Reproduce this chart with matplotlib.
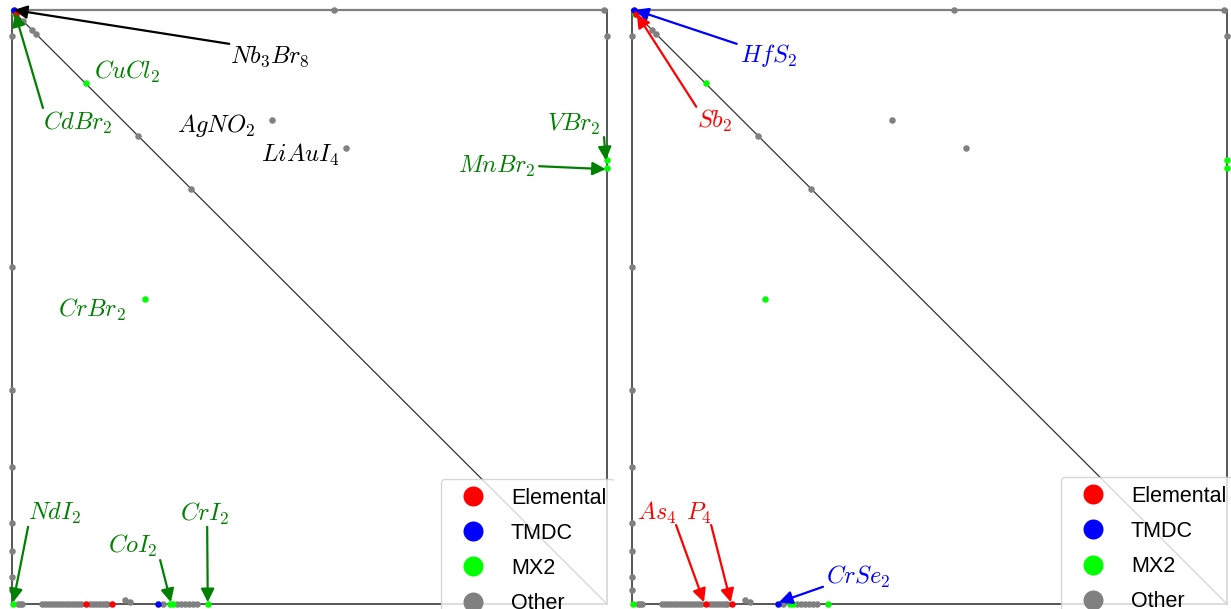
import numpy as np
import matplotlib
matplotlib.use('Agg')
import matplotlib.pyplot as plt
from matplotlib.lines import Line2D

plt.rcParams['mathtext.fontset'] = 'cm'
plt.rcParams['font.family'] = ['Liberation Sans', 'DejaVu Sans']

# point positions (normalised, both panels share them)
elemental_x = [0.007, 0.124, 0.168]
elemental_y = [0.993, 0.0, 0.0]
tmdc_x = [0.003, 0.245]
tmdc_y = [1.0, 0.0]
mx2_x = [0.005, 0.124, 0.224, 1.0, 1.0, 0.002, 0.266, 0.271, 0.329]
mx2_y = [0.994, 0.877, 0.513, 0.747, 0.734, 0.0, 0.0, 0.0, 0.0]
other_x = [0.541, 0.995, 1.0,
           0.0, 0.0, 0.0, 0.0, 0.0, 0.0, 0.0, 0.0,
           0.018, 0.034, 0.040, 0.212, 0.301,
           0.437, 0.561,
           0.010, 0.013, 0.017,
           0.050, 0.055, 0.061, 0.066, 0.071, 0.076, 0.081, 0.086,
           0.091, 0.096, 0.101, 0.106, 0.111, 0.116,
           0.131, 0.136, 0.141, 0.146, 0.151, 0.156, 0.160,
           0.190, 0.198, 0.254,
           0.277, 0.284, 0.291, 0.297, 0.304, 0.311]
other_y = [1.0, 1.0, 0.956,
           0.956, 0.567, 0.360, 0.231, 0.136, 0.089, 0.045, 0.024,
           0.982, 0.966, 0.960, 0.788, 0.699,
           0.815, 0.768,
           0.0, 0.0, 0.0,
           0.0, 0.0, 0.0, 0.0, 0.0, 0.0, 0.0, 0.0,
           0.0, 0.0, 0.0, 0.0, 0.0, 0.0,
           0.0, 0.0, 0.0, 0.0, 0.0, 0.0, 0.0,
           0.007, 0.003, 0.0,
           0.0, 0.0, 0.0, 0.0, 0.0, 0.0]

categories = ['Elemental', 'TMDC', 'MX2', 'Other']
cat_colors = ['red', 'blue', 'lime', 'gray']

# annotations: label, colour, text pos, arrow start, arrow tip (None = no arrow)
left_notes = [
    (r'$Nb_3Br_8$', 'black', (0.434, 0.921), (0.365, 0.943), (0.003, 1.0)),
    (r'$CdBr_2$', 'green', (0.111, 0.810), (0.052, 0.835), (0.005, 0.995)),
    (r'$CuCl_2$', 'green', (0.193, 0.896), None, None),
    (r'$AgNO_2$', 'black', (0.343, 0.806), None, None),
    (r'$LiAuI_4$', 'black', (0.484, 0.756), None, None),
    (r'$VBr_2$', 'green', (0.945, 0.808), (0.995, 0.786), (0.998, 0.747)),
    (r'$MnBr_2$', 'green', (0.815, 0.737), (0.886, 0.737), (0.998, 0.732)),
    (r'$CrBr_2$', 'green', (0.134, 0.495), None, None),
    (r'$NdI_2$', 'green', (0.071, 0.152), (0.027, 0.130), (0.002, 0.003)),
    (r'$CoI_2$', 'green', (0.203, 0.098), (0.249, 0.074), (0.267, 0.003)),
    (r'$CrI_2$', 'green', (0.324, 0.152), (0.328, 0.130), (0.329, 0.003)),
]
right_notes = [
    (r'$HfS_2$', 'blue', (0.229, 0.924), (0.176, 0.943), (0.005, 1.0)),
    (r'$Sb_2$', 'red', (0.139, 0.813), (0.108, 0.837), (0.008, 0.993)),
    (r'$As_4$', 'red', (0.042, 0.153), (0.074, 0.133), (0.121, 0.003)),
    (r'$P_4$', 'red', (0.113, 0.153), (0.133, 0.133), (0.166, 0.003)),
    (r'$CrSe_2$', 'blue', (0.380, 0.045), (0.321, 0.029), (0.247, 0.003)),
]


def draw_panel(ax, notes, xmax, leg_anchor):
    # frame + diagonal
    ax.plot([0, 1], [1, 1], color='#808080', lw=1.6, zorder=2)
    ax.plot([0, 0], [0, 1], color='#555555', lw=1.4, zorder=2)
    ax.plot([0, 1], [0, 0], color='#555555', lw=1.4, zorder=2)
    ax.plot([1, 1], [0, 1], color='#555555', lw=1.4, zorder=2)
    ax.plot([0, 1], [1, 0], color='#333333', lw=0.9, zorder=2)

    ax.scatter(other_x, other_y, s=22, color='gray', lw=0, zorder=3)
    ax.scatter(mx2_x, mx2_y, s=22, color='lime', lw=0, zorder=3)
    ax.scatter(tmdc_x, tmdc_y, s=22, color='blue', lw=0, zorder=3)
    ax.scatter(elemental_x, elemental_y, s=22, color='red', lw=0, zorder=3)

    for label, col, tpos, start, tip in notes:
        ax.text(tpos[0], tpos[1], label, color=col, fontsize=17.6,
                ha='center', va='center', zorder=5)
        if tip is not None:
            ax.annotate('', xy=tip, xytext=start, zorder=4,
                        arrowprops=dict(arrowstyle='-|>', color=col, lw=1.6,
                                        mutation_scale=20, shrinkA=0, shrinkB=0))

    ax.set_xlim(-0.0202, xmax)
    ax.set_ylim(-0.0084, 1.0168)
    ax.axis('off')

    handles = [Line2D([], [], ls='none', marker='o', ms=14.4, color=c,
                      markeredgewidth=0) for c in cat_colors]
    leg = ax.legend(handles, categories, loc='upper left',
                    bbox_to_anchor=leg_anchor, fontsize=15.5, frameon=True,
                    borderaxespad=0, labelspacing=0.66, handlelength=2.2,
                    handletextpad=0.65)
    for a in leg.findobj():
        a.set_clip_on(True)
        a.set_clip_box(ax.bbox)


fig = plt.figure(figsize=(12.31, 6.09), dpi=100)
ax1 = fig.add_axes([0, 0, 614 / 1231, 1])
ax2 = fig.add_axes([620 / 1231, 0, 611 / 1231, 1])
draw_panel(ax1, left_notes, 1.0118, (0.718, 0.2135))
draw_panel(ax2, right_notes, 1.0067, (0.7218, 0.2167))

fig.savefig('out.png', dpi=100)
